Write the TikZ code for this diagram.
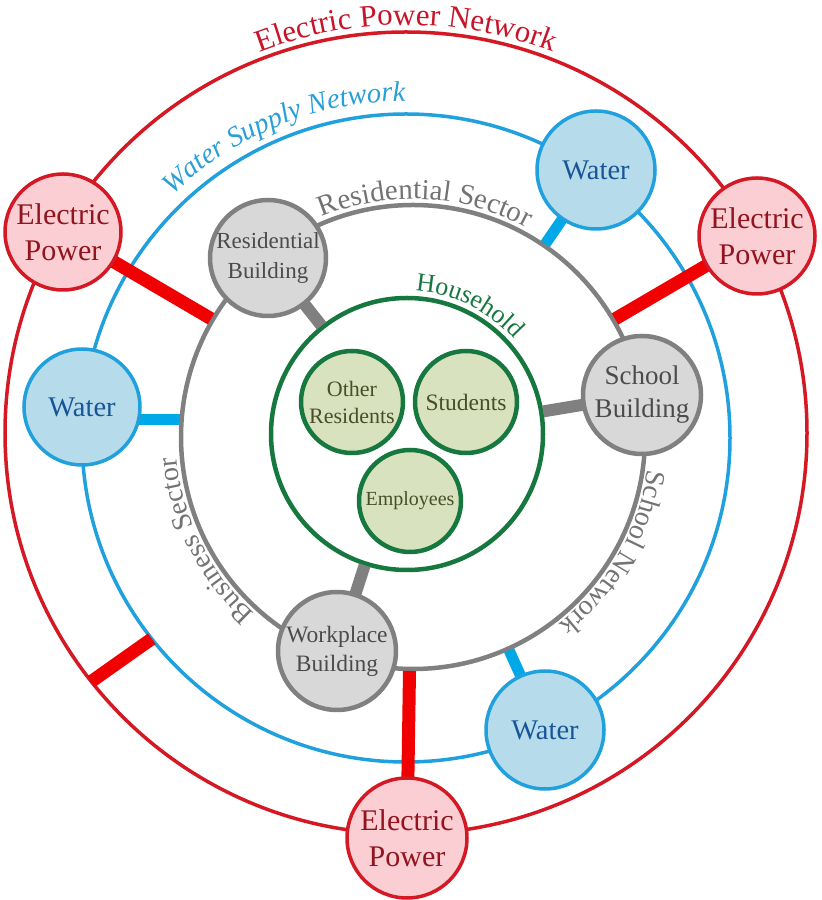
\documentclass[tikz,border=0pt]{standalone}
\usepackage{fontspec}
\setmainfont{Liberation Serif}
\usetikzlibrary{calc,decorations.text}
\definecolor{eline}{RGB}{212,24,36}
\definecolor{ebar}{RGB}{240,0,0}
\definecolor{efill}{RGB}{250,206,210}
\definecolor{etext}{RGB}{145,20,30}
\definecolor{elabel}{RGB}{200,20,40}
\definecolor{wline}{RGB}{32,160,220}
\definecolor{wbar}{RGB}{0,168,232}
\definecolor{wfill}{RGB}{182,220,235}
\definecolor{wtext}{RGB}{25,85,150}
\definecolor{wlabel}{RGB}{40,160,215}
\definecolor{gline}{RGB}{128,128,128}
\definecolor{gfill}{RGB}{216,216,216}
\definecolor{gtext}{RGB}{75,75,75}
\definecolor{glabel}{RGB}{115,115,115}
\definecolor{hline}{RGB}{22,120,62}
\definecolor{hfill}{RGB}{216,226,190}
\definecolor{htext}{RGB}{72,78,40}
\pgfdeclarelayer{rings}
\pgfdeclarelayer{bars}
\pgfsetlayers{rings,bars,main}
\tikzset{
  epnode/.style={circle, draw=eline, fill=efill, line width=3.5pt, minimum size=116pt, inner sep=0pt,
    text=etext, align=center, font=\fontsize{30}{36}\selectfont},
  wnode/.style={circle, draw=wline, fill=wfill, line width=3.5pt, minimum size=118pt, inner sep=0pt,
    text=wtext, align=center, font=\fontsize{28.5}{34}\selectfont},
  gnode/.style={circle, draw=gline, fill=gfill, line width=4.5pt, minimum size=116pt, inner sep=0pt,
    text=gtext, align=center, font=\fontsize{23}{30}\selectfont},
  hnode/.style={circle, draw=hline, fill=hfill, line width=4.5pt, minimum size=102pt, inner sep=0pt,
    text=htext, align=center, font=\fontsize{22}{27}\selectfont},
  ering/.style={draw=eline, line width=3.5pt},
  wring/.style={draw=wline, line width=3.5pt},
  gring/.style={draw=gline, line width=4.5pt},
  hring/.style={draw=hline, line width=4.5pt},
  ebarline/.style={draw=ebar, line width=13pt},
  wbarline/.style={draw=wbar, line width=11pt},
  gbarline/.style={draw=gline, line width=12pt},
}
\begin{document}
\begin{tikzpicture}[x=1pt,y=1pt]
\useasboundingbox (0,0) rectangle (822,900);
\coordinate (R0) at (406,467);
\coordinate (B0) at (406,462);
\coordinate (G0) at (413,463);
\coordinate (H0) at (407,466);

% nodes
\node[epnode] (epL) at (63,668) {Electric\\Power};
\node[epnode] (epR) at (757,664) {Electric\\Power};
\node[epnode, minimum size=120pt] (epB) at (407,62) {Electric\\Power};
\node[wnode] (wT) at (596,730) {Water};
\node[wnode, minimum size=116pt] (wL) at (82,493) {Water};
\node[wnode] (wB) at (545,170) {Water};
\node[gnode] (res) at (268,642) {Residential\\Building};
\node[gnode, minimum size=118pt, font=\fontsize{27}{33}\selectfont] (sch) at (642,505) {School\\Building};
\node[gnode, minimum size=118pt, font=\fontsize{23.5}{29}\selectfont] (work) at (337,249) {Workplace\\Building};
\node[hnode] (oth) at (352,498) {Other\\Residents};
\node[hnode, font=\fontsize{23.5}{27}\selectfont] (stu) at (466,498) {Students};
\node[hnode, font=\fontsize{20}{24}\selectfont] (emp) at (410,399) {Employees};

% rings
\begin{pgfonlayer}{rings}
\draw[ering] (R0) circle[radius=401];
\draw[wring] (B0) circle[radius=324];
\draw[gring] (G0) circle[radius=232];
\draw[hring] (H0) circle[radius=136];
\end{pgfonlayer}

% bars
\begin{pgfonlayer}{bars}
\draw[ebarline] (epL.center) -- ($(G0)!234pt!(epL.center)$);
\draw[ebarline] (epR.center) -- ($(G0)!234pt!(epR.center)$);
\draw[ebarline] (epB.center) -- ($(G0)!234pt!(epB.center)$);
\coordinate (lr1) at ($(R0)+(218.3:401)$);
\coordinate (lr2) at ($(B0)+(218.3:324)$);
\draw[ebarline] (lr1) -- (lr2);
\draw[wbarline] (wT.center) -- ($(G0)!234pt!(wT.center)$);
\draw[wbarline] (wB.center) -- ($(G0)!234pt!(wB.center)$);
\coordinate (wLb) at ($(G0)+(175.8:234)$);
\draw[wbarline] (wLb) -- (wL.center |- wLb);
\draw[gbarline] (res.center) -- ($(H0)!138pt!(res.center)$);
\draw[gbarline] (sch.center) -- ($(H0)!138pt!(sch.center)$);
\draw[gbarline] (work.center) -- ($(H0)!138pt!(work.center)$);
\end{pgfonlayer}

% curved labels
\path[decorate, decoration={text along path, text align=center,
  text={|\fontsize{31}{31}\selectfont\color{elabel}|Electric Power Network}}]
  ($(R0)+(125:408)$) arc[start angle=125, end angle=55, radius=408];
\path[decorate, decoration={text along path, text align=center,
  text={|\fontsize{28.5}{28}\selectfont\itshape\color{wlabel}|Water Supply Network}}]
  ($(B0)+(160:337)$) arc[start angle=160, end angle=64, radius=337];
\path[decorate, decoration={text along path, text align=center,
  text={|\fontsize{29}{29}\selectfont\color{glabel}|Residential Sector}}]
  ($(G0)+(140:238)$) arc[start angle=140, end angle=34, radius=238];
\path[decorate, decoration={text along path, text align=center,
  text={|\fontsize{28}{28}\selectfont\color{glabel}|Business Sector}}]
  ($(G0)+(260:237)$) arc[start angle=260, end angle=153, radius=237];
\path[decorate, decoration={text along path, text align=center,
  text={|\fontsize{28}{28}\selectfont\color{glabel}|School Network}}]
  ($(G0)+(22:237)$) arc[start angle=22, end angle=-82, radius=237];
\path[decorate, decoration={text along path, text align=center,
  text={|\fontsize{26}{26}\selectfont\color{hline}|Household}}]
  ($(H0)+(110:143)$) arc[start angle=110, end angle=18, radius=143];
\end{tikzpicture}
\end{document}
